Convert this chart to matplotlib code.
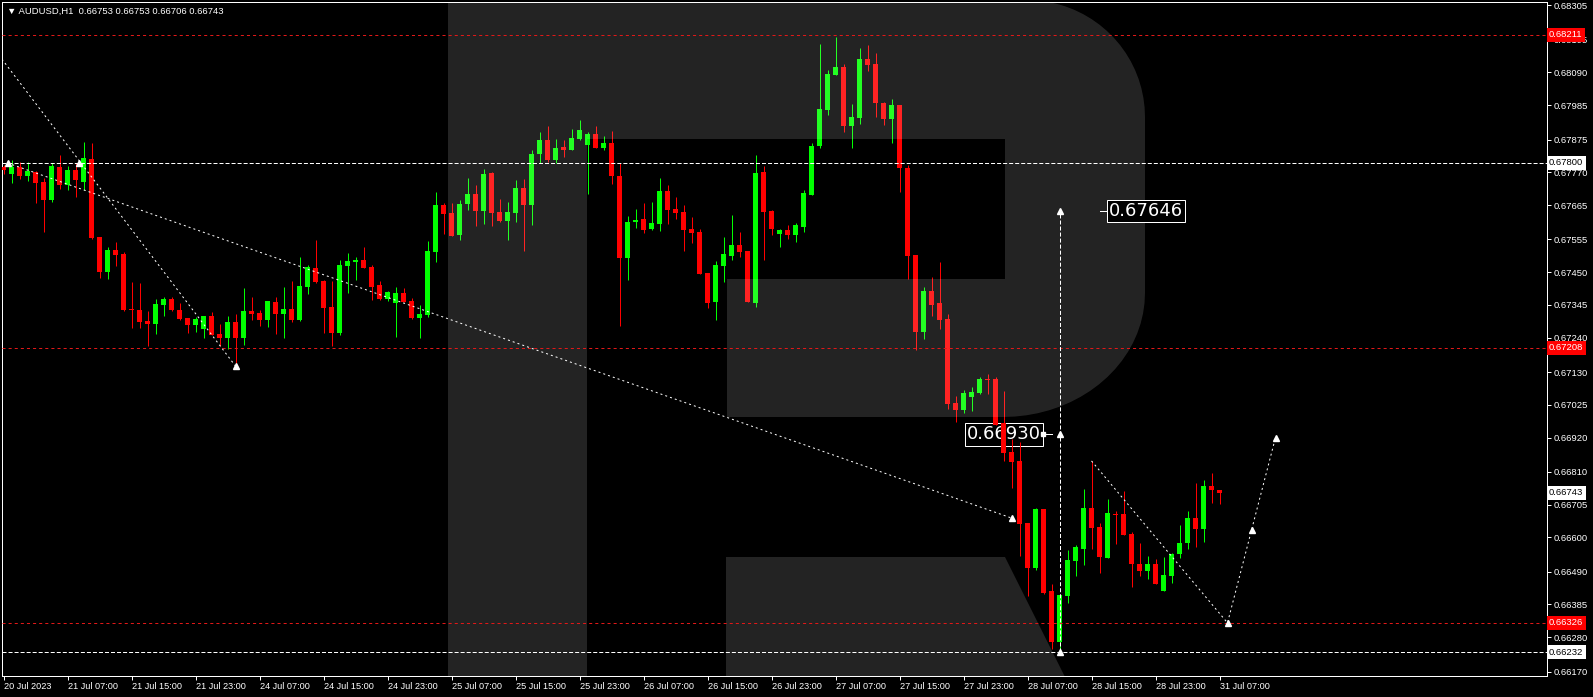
import numpy as np
import matplotlib as mpl
mpl.use('Agg')
from matplotlib import pyplot as plt
from matplotlib.patches import Polygon
from matplotlib import transforms as mtransforms

mpl.rcParams['font.family'] = ['Liberation Sans', 'DejaVu Sans']
mpl.rcParams['lines.scale_dashes'] = False

# AUDUSD H1 candles, first bar = 20 Jul 2023 23:00
opens = [0.67788, 0.67765, 0.67788, 0.67759, 0.67771, 0.67739, 0.67681, 0.67788, 0.67729, 0.67777,
         0.67740, 0.67813, 0.67562, 0.67451, 0.67521, 0.67508, 0.67332, 0.67329, 0.67294, 0.67284,
         0.67345, 0.67364, 0.67329, 0.67303, 0.67281, 0.67268, 0.67310, 0.67252, 0.67239, 0.67291,
         0.67239, 0.67326, 0.67319, 0.67297, 0.67355, 0.67316, 0.67332, 0.67297, 0.67403, 0.67463,
         0.67422, 0.67339, 0.67255, 0.67470, 0.67483, 0.67489, 0.67467, 0.67409, 0.67364, 0.67351,
         0.67383, 0.67358, 0.67303, 0.67313, 0.67515, 0.67665, 0.67639, 0.67569, 0.67668, 0.67700,
         0.67646, 0.67768, 0.67643, 0.67614, 0.67639, 0.67720, 0.67665, 0.67829, 0.67874, 0.67810,
         0.67851, 0.67842, 0.67877, 0.67858, 0.67893, 0.67848, 0.67864, 0.67758, 0.67495, 0.67611,
         0.67620, 0.67588, 0.67604, 0.67710, 0.67652, 0.67643, 0.67588, 0.67579, 0.67447, 0.67355,
         0.67470, 0.67502, 0.67537, 0.67518, 0.67351, 0.67771, 0.67646, 0.67572, 0.67585, 0.67569,
         0.67595, 0.67697, 0.67855, 0.67970, 0.68082, 0.68107, 0.67919, 0.67944, 0.68133, 0.68117,
         0.67992, 0.67941, 0.67986, 0.67784, 0.67505, 0.67258, 0.67390, 0.67351, 0.67300, 0.67030,
         0.67008, 0.67050, 0.67062, 0.67107, 0.67107, 0.66966, 0.66874, 0.66845, 0.66646, 0.66502,
         0.66691, 0.66428, 0.66264, 0.66412, 0.66524, 0.66563, 0.66694, 0.66633, 0.66534, 0.66675,
         0.66675, 0.66611, 0.66515, 0.66492, 0.66515, 0.66428, 0.66476, 0.66547, 0.66582, 0.66662,
         0.66627, 0.66765, 0.66753]
highs = [0.67794, 0.67810, 0.67804, 0.67804, 0.67773, 0.67752, 0.67799, 0.67826, 0.67789, 0.67799,
         0.67867, 0.67864, 0.67564, 0.67530, 0.67547, 0.67515, 0.67419, 0.67416, 0.67326, 0.67364,
         0.67371, 0.67371, 0.67351, 0.67303, 0.67307, 0.67310, 0.67323, 0.67284, 0.67310, 0.67316,
         0.67399, 0.67371, 0.67329, 0.67358, 0.67371, 0.67403, 0.67422, 0.67499, 0.67474, 0.67553,
         0.67425, 0.67422, 0.67489, 0.67511, 0.67499, 0.67531, 0.67473, 0.67422, 0.67390, 0.67403,
         0.67399, 0.67367, 0.67345, 0.67550, 0.67707, 0.67671, 0.67671, 0.67681, 0.67752, 0.67729,
         0.67780, 0.67771, 0.67684, 0.67675, 0.67745, 0.67748, 0.67842, 0.67900, 0.67919, 0.67877,
         0.67874, 0.67909, 0.67938, 0.67900, 0.67919, 0.67887, 0.67903, 0.67800, 0.67630, 0.67652,
         0.67671, 0.67675, 0.67752, 0.67729, 0.67691, 0.67665, 0.67627, 0.67588, 0.67447, 0.67486,
         0.67563, 0.67633, 0.67579, 0.67518, 0.67826, 0.67790, 0.67649, 0.67588, 0.67601, 0.67608,
         0.67713, 0.67864, 0.68181, 0.68098, 0.68205, 0.68117, 0.67989, 0.68168, 0.68178, 0.68152,
         0.67995, 0.68005, 0.67986, 0.67794, 0.67505, 0.67403, 0.67435, 0.67483, 0.67316, 0.67053,
         0.67072, 0.67082, 0.67114, 0.67123, 0.67114, 0.67069, 0.66915, 0.66906, 0.66646, 0.66694,
         0.66691, 0.66450, 0.66415, 0.66560, 0.66576, 0.66755, 0.66845, 0.66646, 0.66723, 0.66685,
         0.66749, 0.66617, 0.66582, 0.66540, 0.66531, 0.66537, 0.66550, 0.66640, 0.66685, 0.66774,
         0.66784, 0.66806, 0.66753]
lows = [0.67764, 0.67736, 0.67748, 0.67743, 0.67672, 0.67580, 0.67676, 0.67716, 0.67713, 0.67691,
        0.67712, 0.67555, 0.67432, 0.67428, 0.67470, 0.67326, 0.67272, 0.67272, 0.67214, 0.67253,
        0.67311, 0.67326, 0.67297, 0.67255, 0.67259, 0.67239, 0.67249, 0.67212, 0.67203, 0.67149,
        0.67217, 0.67297, 0.67278, 0.67275, 0.67252, 0.67239, 0.67291, 0.67294, 0.67380, 0.67416,
        0.67255, 0.67214, 0.67249, 0.67383, 0.67425, 0.67463, 0.67361, 0.67361, 0.67358, 0.67243,
        0.67355, 0.67300, 0.67239, 0.67307, 0.67483, 0.67572, 0.67566, 0.67553, 0.67649, 0.67598,
        0.67604, 0.67598, 0.67610, 0.67553, 0.67610, 0.67518, 0.67601, 0.67800, 0.67804, 0.67800,
        0.67819, 0.67842, 0.67874, 0.67700, 0.67848, 0.67842, 0.67733, 0.67277, 0.67425, 0.67592,
        0.67575, 0.67585, 0.67582, 0.67604, 0.67620, 0.67518, 0.67543, 0.67444, 0.67335, 0.67297,
        0.67419, 0.67489, 0.67499, 0.67355, 0.67339, 0.67489, 0.67569, 0.67531, 0.67556, 0.67547,
        0.67579, 0.67697, 0.67848, 0.67954, 0.68082, 0.67900, 0.67848, 0.67925, 0.68095, 0.67947,
        0.67922, 0.67864, 0.67707, 0.67428, 0.67201, 0.67236, 0.67310, 0.67268, 0.67011, 0.66970,
        0.66998, 0.67005, 0.67059, 0.67059, 0.66960, 0.66845, 0.66758, 0.66541, 0.66412, 0.66495,
        0.66418, 0.66242, 0.66232, 0.66389, 0.66476, 0.66512, 0.66563, 0.66486, 0.66534, 0.66579,
        0.66608, 0.66441, 0.66476, 0.66466, 0.66451, 0.66428, 0.66454, 0.66534, 0.66563, 0.66569,
        0.66585, 0.66710, 0.66706]
closes = [0.67777, 0.67788, 0.67759, 0.67774, 0.67736, 0.67682, 0.67790, 0.67729, 0.67777, 0.67745,
          0.67816, 0.67560, 0.67451, 0.67521, 0.67505, 0.67328, 0.67329, 0.67291, 0.67284, 0.67349,
          0.67364, 0.67328, 0.67300, 0.67281, 0.67300, 0.67310, 0.67249, 0.67239, 0.67291, 0.67239,
          0.67326, 0.67316, 0.67297, 0.67358, 0.67316, 0.67332, 0.67297, 0.67406, 0.67467, 0.67419,
          0.67335, 0.67255, 0.67473, 0.67486, 0.67489, 0.67463, 0.67403, 0.67364, 0.67387, 0.67383,
          0.67355, 0.67303, 0.67316, 0.67518, 0.67665, 0.67636, 0.67566, 0.67668, 0.67700, 0.67646,
          0.67764, 0.67639, 0.67614, 0.67643, 0.67720, 0.67665, 0.67829, 0.67874, 0.67810, 0.67848,
          0.67842, 0.67880, 0.67906, 0.67893, 0.67848, 0.67864, 0.67758, 0.67495, 0.67611, 0.67617,
          0.67585, 0.67607, 0.67710, 0.67649, 0.67639, 0.67585, 0.67575, 0.67444, 0.67351, 0.67473,
          0.67508, 0.67537, 0.67515, 0.67355, 0.67768, 0.67643, 0.67588, 0.67585, 0.67569, 0.67601,
          0.67704, 0.67855, 0.67973, 0.68085, 0.68107, 0.67919, 0.67947, 0.68133, 0.68114, 0.67992,
          0.67941, 0.67986, 0.67784, 0.67502, 0.67258, 0.67390, 0.67345, 0.67297, 0.67027, 0.67008,
          0.67062, 0.67066, 0.67107, 0.67104, 0.66960, 0.66870, 0.66842, 0.66643, 0.66502, 0.66691,
          0.66422, 0.66264, 0.66415, 0.66528, 0.66569, 0.66694, 0.66630, 0.66537, 0.66678, 0.66672,
          0.66608, 0.66515, 0.66492, 0.66515, 0.66451, 0.66479, 0.66547, 0.66582, 0.66662, 0.66627,
          0.66765, 0.66753, 0.66743]

time_labels = ['20 Jul 2023', '21 Jul 07:00', '21 Jul 15:00', '21 Jul 23:00', '24 Jul 07:00',
               '24 Jul 15:00', '24 Jul 23:00', '25 Jul 07:00', '25 Jul 15:00', '25 Jul 23:00',
               '26 Jul 07:00', '26 Jul 15:00', '26 Jul 23:00', '27 Jul 07:00', '27 Jul 15:00',
               '27 Jul 23:00', '28 Jul 07:00', '28 Jul 15:00', '28 Jul 23:00', '31 Jul 07:00']
price_ticks = [0.68305, 0.68195, 0.68090, 0.67985, 0.67875, 0.67770, 0.67665, 0.67555, 0.67450,
               0.67345, 0.67240, 0.67130, 0.67025, 0.66920, 0.66810, 0.66705, 0.66600, 0.66490,
               0.66385, 0.66280, 0.66170]
red_levels = [0.68211, 0.67208, 0.66326]
white_levels = [0.67800, 0.66232]
last_price = 0.66743

# forecast / wave lines (bar index, price)
wave_a_x = [-0.2, 29]
wave_a_y = [0.68133, 0.67149]
wave_b_x = [0.5, 126]
wave_b_y = [0.67800, 0.66662]
target_x = [132, 132]
target_y = [0.66232, 0.67646]
wave_c_x = [136, 153, 159]
wave_c_y = [0.66845, 0.66326, 0.66920]
mark_x = [0.5, 9.4, 29, 126, 132, 132, 132, 153, 156, 159]
mark_y = [0.67800, 0.67800, 0.67149, 0.66662, 0.66232, 0.66930, 0.67646, 0.66326, 0.66623, 0.66920]

W, H = 1593, 697
fig = plt.figure(figsize=(W / 100, H / 100), dpi=100, facecolor='black')
ax = fig.add_axes([2 / W, 21 / H, 1545 / W, 674 / H])
ax.set_facecolor('black')

o = np.array(opens)
c = np.array(closes)
hi = np.array(highs)
lo = np.array(lows)
idx = np.arange(len(o))
cols = np.where(c > o, '#00ff00', '#ff0000')

px = 0.72  # one pixel in points
ax.vlines(idx, lo, hi, colors=cols, lw=px, zorder=3)
body_h = np.maximum(np.abs(c - o), 0.00003)
ax.bar(idx, body_h, bottom=np.minimum(o, c), width=0.625, color=cols, linewidth=0, zorder=3)

# big "R" watermark, drawn in pixel space
to_px = mtransforms.Affine2D().scale(1, -1).translate(0, H)
t1 = np.linspace(-np.pi / 2, 0, 20)
t2 = np.linspace(0, np.pi / 2, 20)
pts = [(448, 0), (1027, 0)]
pts += list(zip(1027 + 118 * np.cos(t1), 117 + 117 * np.sin(t1)))
pts += list(zip(1003 + 142 * np.cos(t2), 293 + 124 * np.sin(t2)))
pts += [(727, 417), (727, 279), (1005, 279), (1005, 139), (587, 139), (587, H), (448, H)]
ax.add_patch(Polygon(pts, closed=True, fc='white', alpha=0.14, ec='none', transform=to_px, zorder=4))
leg = [(726, 557), (1005, 557), (1075, H), (726, H)]
ax.add_patch(Polygon(leg, closed=True, fc='white', alpha=0.14, ec='none', transform=to_px, zorder=4))

for lvl in red_levels:
    ax.axhline(lvl, color='#e01818', lw=px, dashes=(2.2, 2.2), zorder=5)
for lvl in white_levels:
    ax.axhline(lvl, color='white', lw=px, dashes=(2.9, 1.44), zorder=5)

ax.plot(wave_a_x, wave_a_y, color='white', lw=px, dashes=(1.44, 2.2), zorder=6)
ax.plot(wave_b_x, wave_b_y, color='white', lw=px, dashes=(1.44, 2.2), zorder=6)
ax.plot(wave_c_x, wave_c_y, color='white', lw=px, dashes=(1.44, 2.2), zorder=6)
ax.plot(target_x, target_y, color='white', lw=px, dashes=(2.9, 1.44), zorder=6)
ax.plot(mark_x, mark_y, ls='none', marker='^', ms=4, color='white', zorder=7)

# price labels on the chart
ax.plot([129.8, 131.1], [0.66930, 0.66930], color='white', lw=px, zorder=6)
ax.plot([129.9], [0.66930], marker='s', ms=2.5, color='white', zorder=6)
ax.text(125.1, 0.66930, '0.66930', color='white', fontsize=13, ha='center', va='center',
        family='DejaVu Sans', zorder=2,
        bbox=dict(boxstyle='square,pad=0.12', fc='black', ec='white', lw=px))
ax.plot([137.06, 138.3], [0.67646, 0.67646], color='white', lw=px, zorder=6)
ax.text(142.8, 0.67646, '0.67646', color='white', fontsize=13, ha='center', va='center',
        family='DejaVu Sans', zorder=8,
        bbox=dict(boxstyle='square,pad=0.12', fc='black', ec='white', lw=px))

ax.text(5 / 1545, 1 - 9 / 674, '\u25bc AUDUSD,H1  0.66753 0.66753 0.66706 0.66743',
        transform=ax.transAxes, color='white', fontsize=6.8, ha='left', va='center', zorder=9)

ax.set_xlim(-0.1875, -0.1875 + 1545 / 8)
ax.set_ylim(0.683223 - 676 * 0.00003205, 0.683223 - 2 * 0.00003205)

ax.set_xticks(np.arange(len(time_labels)) * 8)
ax.set_xticklabels(time_labels, ha='left')
ax.set_yticks(price_ticks)
ax.set_yticklabels(['%.5f' % v for v in price_ticks])
ax.yaxis.tick_right()
ax.tick_params(axis='x', colors='white', labelsize=6.6, length=3, width=px, pad=1.5)
ax.tick_params(axis='y', colors='white', labelsize=6.8, length=3, width=px, pad=1.5)
for lab in ax.get_xticklabels():
    lab.set_horizontalalignment('left')
for sp in ax.spines.values():
    sp.set_color('white')
    sp.set_linewidth(px)

yax = mtransforms.blended_transform_factory(ax.transAxes, ax.transData)
for lvl in red_levels:
    ax.text(1.0013, lvl, '%.5f' % lvl, transform=yax, color='white', fontsize=6.8, ha='left',
            va='center', clip_on=False, zorder=10,
            bbox=dict(boxstyle='square,pad=0.25', fc='#ff0000', ec='none'))
for lvl in white_levels + [last_price]:
    ax.text(1.0013, lvl, '%.5f' % lvl, transform=yax, color='black', fontsize=6.8, ha='left',
            va='center', clip_on=False, zorder=10,
            bbox=dict(boxstyle='square,pad=0.25', fc='white', ec='none'))

fig.savefig('out.png', dpi=100, facecolor='black')
